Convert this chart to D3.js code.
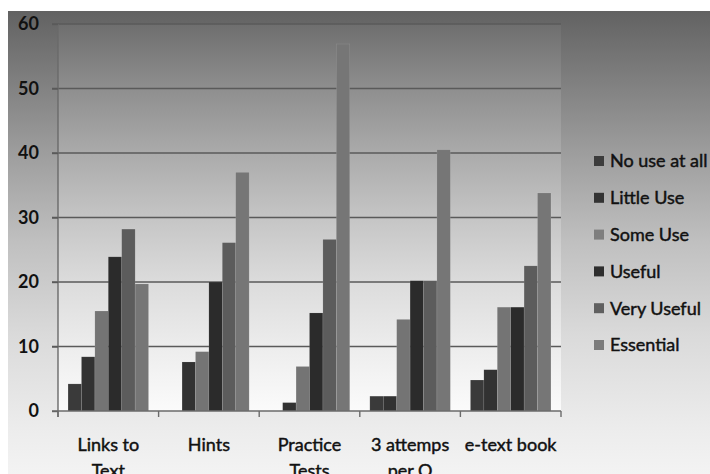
<!DOCTYPE html>
<html>
<head>
<meta charset="utf-8">
<script src="https://cdn.jsdelivr.net/npm/d3@7"></script>
<style>
  html, body { margin: 0; padding: 0; background: #ffffff; }
  svg { display: block; font-family: Lato, "Open Sans", sans-serif; }
</style>
</head>
<body>
<svg id="chart" width="710" height="474"></svg>
<script>
// Survey of how useful each feature was, counts per response level
const categories = ["Links to Text", "Hints", "Practice Tests", "3 attemps per Q", "e-text book"];
const categoryLines = [["Links to", "Text"], ["Hints"], ["Practice", "Tests"], ["3 attemps", "per Q"], ["e-text book"]];
const seriesNames = ["No use at all", "Little Use", "Some Use", "Useful", "Very Useful", "Essential"];
const noUse      = [4.2, 0,   0,    2.3,  4.8];
const littleUse  = [8.4, 7.6, 1.3,  2.3,  6.4];
const someUse    = [15.5, 9.2, 6.9, 14.2, 16.1];
const useful     = [23.9, 20.0, 15.2, 20.2, 16.1];
const veryUseful = [28.2, 26.1, 26.6, 20.2, 22.5];
const essential  = [19.7, 37.0, 56.9, 40.5, 33.8];
const yTicks = [0, 10, 20, 30, 40, 50, 60];

const seriesValues = [noUse, littleUse, someUse, useful, veryUseful, essential];
const barColors = ["#3a3a3a", "#323232", "#747474", "#2b2b2b", "#5c5c5c", "#767676"];
const swatchColors = ["#3c3c3c", "#333333", "#7e7e7e", "#2e2e2e", "#606060", "#7c7c7c"];

const svg = d3.select("#chart");
const defs = svg.append("defs");

// Chart-area background: dark grey at the top fading to near white
const bgGrad = defs.append("linearGradient").attr("id", "bgGrad")
  .attr("x1", 0).attr("y1", 0).attr("x2", 0).attr("y2", 1);
[[0, "#626262"], [0.3, "#9c9c9c"], [0.5, "#c0c0c0"], [0.7, "#dadada"], [0.9, "#ececec"], [1, "#f3f3f3"]]
  .forEach(([o, c]) => bgGrad.append("stop").attr("offset", o).attr("stop-color", c));

// Plot-area background, slightly lighter than the chart area
const plotGrad = defs.append("linearGradient").attr("id", "plotGrad")
  .attr("x1", 0).attr("y1", 0).attr("x2", 0).attr("y2", 1);
[[0, "#6e6e6e"], [0.17, "#8f8f8f"], [0.33, "#aaaaaa"], [0.5, "#c5c5c5"], [0.67, "#dcdcdc"], [0.85, "#eeeeee"], [1, "#fbfbfb"]]
  .forEach(([o, c]) => plotGrad.append("stop").attr("offset", o).attr("stop-color", c));

const plot = { left: 58, right: 561, top: 24, bottom: 411 };

svg.append("rect").attr("x", 8).attr("y", 11).attr("width", 702).attr("height", 463)
  .attr("fill", "url(#bgGrad)");
svg.append("rect").attr("x", plot.left).attr("y", plot.top)
  .attr("width", plot.right - plot.left).attr("height", plot.bottom - plot.top)
  .attr("fill", "url(#plotGrad)");

const y = d3.scaleLinear().domain([0, 60]).range([plot.bottom, plot.top]);
const x0 = d3.scaleBand().domain(categories).range([plot.left, plot.right]).padding(0);
const x1 = d3.scaleBand().domain(seriesNames).range([0, x0.bandwidth()])
  .paddingInner(0).paddingOuter(0.75);

// Horizontal gridlines
svg.append("g").selectAll("line").data(yTicks.filter(t => t > 0)).join("line")
  .attr("x1", plot.left - 6).attr("x2", plot.right)
  .attr("y1", d => y(d)).attr("y2", d => y(d))
  .attr("stroke", "#5a5a5a").attr("stroke-width", 1.4);

// Bars
const groups = svg.append("g").selectAll("g").data(categories).join("g")
  .attr("transform", d => `translate(${x0(d)},0)`);
groups.selectAll("rect")
  .data((d, i) => seriesNames.map((s, j) => ({ s, j, v: seriesValues[j][i] })))
  .join("rect")
  .attr("x", d => x1(d.s))
  .attr("y", d => y(d.v))
  .attr("width", x1.bandwidth())
  .attr("height", d => y(0) - y(d.v))
  .attr("fill", d => barColors[d.j])
  .attr("stroke", "rgba(255,255,255,0.15)").attr("stroke-width", 0.6);

// Y axis
const yAxis = d3.axisLeft(y).tickValues(yTicks).tickSize(6).tickPadding(13);
const gy = svg.append("g").attr("transform", `translate(${plot.left},0)`).call(yAxis);
gy.select(".domain").attr("stroke", "#6a6a6a").attr("stroke-width", 1.4)
  .attr("d", `M0,${plot.top}V${plot.bottom + 6}`);
gy.selectAll(".tick line").attr("stroke", "#5a5a5a").attr("stroke-width", 1.4);
gy.selectAll(".tick text").attr("fill", "#111").attr("font-size", 18)
  .attr("font-weight", 700).attr("font-family", "Lato, sans-serif");

// X axis baseline and boundary ticks
const gx = svg.append("g");
gx.append("line").attr("x1", plot.left - 6).attr("x2", plot.right)
  .attr("y1", plot.bottom).attr("y2", plot.bottom)
  .attr("stroke", "#6a6a6a").attr("stroke-width", 1.4);
const boundaries = categories.map(c => x0(c)).concat([x0(categories[categories.length - 1]) + x0.bandwidth()]);
gx.selectAll("line.tk").data(boundaries).join("line").attr("class", "tk")
  .attr("x1", d => d).attr("x2", d => d)
  .attr("y1", plot.bottom).attr("y2", plot.bottom + 6)
  .attr("stroke", "#6a6a6a").attr("stroke-width", 1.4);

// Category labels (two lines where wrapped; the second line runs off the bottom edge)
const labels = svg.append("g").selectAll("text").data(categories).join("text")
  .attr("x", d => x0(d) + x0.bandwidth() / 2)
  .attr("y", 451)
  .attr("text-anchor", "middle")
  .attr("font-size", 18).attr("fill", "#111")
  .attr("stroke", "#111").attr("stroke-width", 0.45);
labels.each(function (d, i) {
  const t = d3.select(this);
  categoryLines[i].forEach((line, k) => {
    t.append("tspan").attr("x", x0(d) + x0.bandwidth() / 2)
      .attr("dy", k === 0 ? 0 : 26).text(line);
  });
});

// Legend
const legend = svg.append("g").selectAll("g").data(seriesNames).join("g")
  .attr("transform", (d, i) => `translate(594,${161 + i * 36.8})`);
legend.append("rect").attr("x", 0).attr("y", -5).attr("width", 10).attr("height", 10)
  .attr("fill", (d, i) => swatchColors[i]);
legend.append("text").attr("x", 16).attr("y", 0).attr("dy", "0.35em")
  .attr("font-size", 18).attr("fill", "#111")
  .attr("stroke", "#111").attr("stroke-width", 0.45).text(d => d);
</script>
</body>
</html>
